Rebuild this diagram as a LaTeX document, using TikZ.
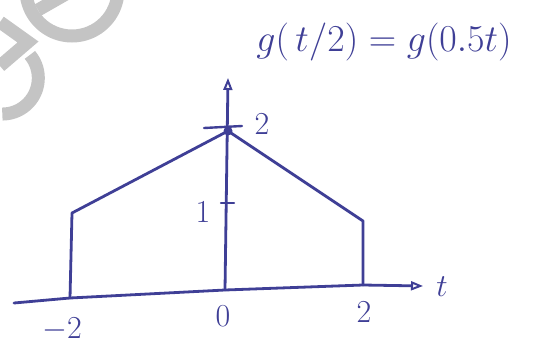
\RequirePackage{fix-cm}
\documentclass[tikz,border=0pt]{standalone}
\usepackage{amsmath}
\usepackage{tikz}
\usetikzlibrary{arrows.meta,positioning}
\definecolor{penblue}{HTML}{3F3F96}
\definecolor{markgray}{HTML}{C4C4C4}

\begin{document}
\begin{tikzpicture}[x=1pt, y=-1pt,
  pen/.style={draw=penblue, line width=2.8pt, line cap=round, line join=round},
  axis/.style={pen, -{Triangle[open, length=12pt, width=9pt, line width=2pt]}},
  tick/.style={pen, line width=2.4pt},
  lbl/.style={text=penblue, inner sep=0pt, font=\fontsize{32}{34}\selectfont},
  title/.style={lbl, font=\fontsize{38}{42}\selectfont},
  wm/.style={draw=markgray, line width=13pt},
]
  \clip (0,0) rectangle (535,354);

  % Watermark letters in the corner.
  \draw[wm] (26,-10) arc[start angle=180, end angle=0, radius=46];
  \draw[wm] (38,10) -- (66,-6);
  \draw[wm] (29.9,54.9) arc[start angle=-40, end angle=90, radius=36];
  \draw[wm] (0,22) -- (28,42) -- (0,66);

  % Axes.
  \coordinate (t-start) at (14,303);
  \coordinate (t-m2) at (70,298);
  \coordinate (t-0) at (225,290);
  \coordinate (t-p2) at (363,285);
  \coordinate (t-end) at (423,286);
  \coordinate (y-end) at (228,78);
  \draw[axis] (t-start) -- (t-m2) -- (t-0) -- (t-p2) -- (t-end);
  \draw[axis] (t-0) -- (y-end);

  % Scaled pulse g(t/2).
  \coordinate (left-top) at (72,213);
  \coordinate (peak) at (228,131);
  \coordinate (right-top) at (363,221);
  \draw[pen] (t-m2) -- (left-top) -- (peak) -- (right-top) -- (t-p2);

  % Ticks on the vertical axis.
  \coordinate (tick2-a) at (204,128);
  \coordinate (tick2-b) at (242,126);
  \coordinate (tick1-a) at (221,203);
  \coordinate (tick1-b) at (234,203);
  \draw[tick] (tick2-a) -- (tick2-b);
  \draw[tick] (tick1-a) -- (tick1-b);
  \fill[penblue] (peak) circle (4.5pt);

  % Labels.
  \node[lbl] (lab-2y) at (262,124) {2};
  \node[lbl] (lab-1y) at (203,212) {1};
  \node[lbl] (lab-m2) at (62,330) {$-2$};
  \node[lbl] (lab-0) at (223,316) {0};
  \node[lbl] (lab-p2) at (364,312) {2};
  \node[lbl] (lab-t) at (442,287) {$t$};
  \node[title] (formula) at (384,42) {$g(\,t/2) = g(0.5t)$};
\end{tikzpicture}
\end{document}
